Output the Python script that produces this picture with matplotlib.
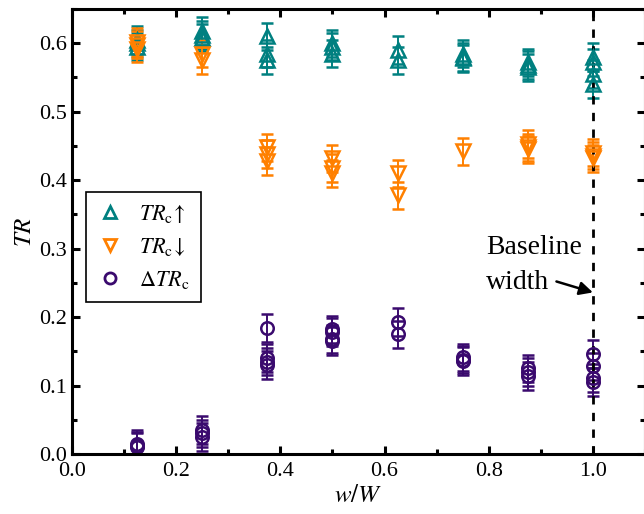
import numpy as np
import matplotlib
matplotlib.use('Agg')
import matplotlib.pyplot as plt
from matplotlib.ticker import MultipleLocator, FormatStrFormatter
from matplotlib.lines import Line2D

plt.rcParams['font.family'] = ['Liberation Serif', 'DejaVu Serif']
plt.rcParams['mathtext.fontset'] = 'stix'

# TR_c up (teal)
up_x = [0.125, 0.125, 0.125, 0.25, 0.25, 0.25, 0.375, 0.375, 0.375, 0.5, 0.5, 0.5,
        0.625, 0.625, 0.75, 0.75, 0.75, 0.875, 0.875, 0.875, 1.0, 1.0, 1.0, 1.0]
up_y = [0.600, 0.595, 0.605, 0.618, 0.608, 0.612, 0.610, 0.585, 0.575, 0.600, 0.595, 0.585,
        0.590, 0.575, 0.585, 0.580, 0.578, 0.572, 0.565, 0.568, 0.580, 0.572, 0.555, 0.540]
up_err = [0.02] * len(up_y)

# TR_c down (orange)
dn_x = [0.125, 0.125, 0.125, 0.25, 0.25, 0.375, 0.375, 0.375, 0.5, 0.5, 0.5,
        0.625, 0.625, 0.75, 0.875, 0.875, 0.875, 1.0, 1.0, 1.0]
dn_y = [0.598, 0.592, 0.602, 0.585, 0.575, 0.448, 0.438, 0.428, 0.432, 0.418, 0.410,
        0.410, 0.378, 0.442, 0.453, 0.448, 0.445, 0.440, 0.436, 0.432]
dn_err = [0.02] * len(dn_y)

# Delta TR_c (purple)
d_x = [0.125, 0.125, 0.125, 0.25, 0.25, 0.25, 0.375, 0.375, 0.375, 0.375,
       0.5, 0.5, 0.5, 0.5, 0.625, 0.625, 0.75, 0.75, 0.75,
       0.875, 0.875, 0.875, 1.0, 1.0, 1.0, 1.0]
d_y = [0.015, 0.010, 0.012, 0.035, 0.030, 0.025, 0.184, 0.140, 0.135, 0.130,
       0.182, 0.178, 0.168, 0.165, 0.193, 0.175, 0.141, 0.138, 0.136,
       0.125, 0.120, 0.114, 0.146, 0.128, 0.111, 0.105]
d_err = [0.02] * len(d_y)

teal = '#008080'
orange = '#FF8000'
purple = '#3A0A6E'

fig = plt.figure(figsize=(6.44, 5.14), dpi=100)
ax = fig.add_axes([72 / 644, 60 / 514, 573 / 644, 445 / 514])

kw = dict(linestyle='none', capsize=4.5, elinewidth=1.4, capthick=1.4,
          markerfacecolor='none', markeredgewidth=1.8)
ax.errorbar(up_x, up_y, yerr=up_err, marker='^', markersize=10, color=teal, **kw)
ax.errorbar(dn_x, dn_y, yerr=dn_err, marker='v', markersize=10, color=orange, **kw)
ax.errorbar(d_x, d_y, yerr=d_err, marker='o', markersize=9, color=purple, **kw)

ax.axvline(1.0, color='black', linestyle=(0, (3, 3)), linewidth=2)

ax.text(0.795, 0.301, 'Baseline', fontsize=20, ha='left', va='center')
ax.text(0.795, 0.250, 'width', fontsize=20, ha='left', va='center')
ax.annotate('', xy=(1.0, 0.236), xytext=(0.93, 0.252),
            arrowprops=dict(arrowstyle='-|>', color='black', lw=1.8,
                            mutation_scale=20, shrinkA=0, shrinkB=0))

ax.set_xlim(0, 1.1)
ax.set_ylim(0, 0.65)
ax.xaxis.set_major_locator(MultipleLocator(0.2))
ax.xaxis.set_minor_locator(MultipleLocator(0.1))
ax.yaxis.set_major_locator(MultipleLocator(0.1))
ax.yaxis.set_minor_locator(MultipleLocator(0.05))
ax.xaxis.set_major_formatter(FormatStrFormatter('%.1f'))
ax.yaxis.set_major_formatter(FormatStrFormatter('%.1f'))
ax.tick_params(which='both', direction='in', top=True, right=True,
               labelsize=16, width=2.2)
ax.tick_params(which='major', length=6)
ax.tick_params(which='minor', length=3.5)
ax.tick_params(axis='x', which='major', pad=6)
for s in ax.spines.values():
    s.set_linewidth(2.2)

ax.set_xlabel(r'$w/W$', fontsize=18, labelpad=3)
ax.set_ylabel(r'$TR$', fontsize=18, labelpad=2)

handles = [
    Line2D([], [], linestyle='none', marker='^', markersize=9, color=teal,
           markerfacecolor='none', markeredgewidth=2),
    Line2D([], [], linestyle='none', marker='v', markersize=9, color=orange,
           markerfacecolor='none', markeredgewidth=2),
    Line2D([], [], linestyle='none', marker='o', markersize=8, color=purple,
           markerfacecolor='none', markeredgewidth=2),
]
labels = [r'$TR_{\mathrm{c}}\!\uparrow$', r'$TR_{\mathrm{c}}\!\downarrow$',
          r'$\Delta TR_{\mathrm{c}}$']
leg = ax.legend(handles, labels, loc='upper left', bbox_to_anchor=(0.024, 0.589),
                borderaxespad=0, fontsize=16, fancybox=False, edgecolor='black',
                framealpha=1, handletextpad=0.7, labelspacing=0.5, borderpad=0.5,
                handlelength=1.2)
leg.get_frame().set_linewidth(1.2)

fig.savefig('out.png', dpi=100)
